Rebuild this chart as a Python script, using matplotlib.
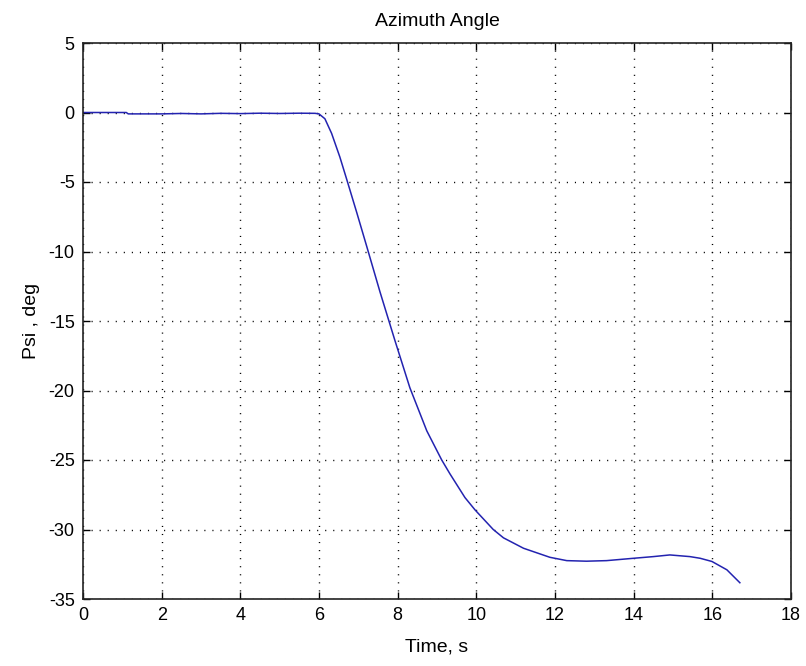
import matplotlib
matplotlib.use("Agg")
import matplotlib.pyplot as plt
from matplotlib.ticker import MultipleLocator

plt.rcParams['font.family'] = ['Liberation Sans', 'DejaVu Sans']
plt.rcParams['axes.unicode_minus'] = False

# Azimuth angle history
time_s = [0.0, 1.1, 1.15, 2.0, 2.5, 3.0, 3.5, 4.0, 4.5, 5.0, 5.5, 5.9, 6.0,
          6.15, 6.32, 6.53, 6.71, 6.96, 7.21, 7.55, 7.93, 8.31, 8.74, 9.12,
          9.33, 9.71, 9.97, 10.43, 10.69, 11.2, 11.87, 12.3, 12.8, 13.31,
          14.0, 14.5, 14.92, 15.43, 15.69, 15.99, 16.37, 16.7]
psi_deg = [0.0, 0.0, -0.1, -0.1, -0.07, -0.1, -0.06, -0.08, -0.05, -0.07,
           -0.05, -0.06, -0.1, -0.45, -1.5, -3.2, -4.86, -7.2, -9.6, -12.9,
           -16.4, -19.8, -22.9, -25.0, -26.0, -27.7, -28.6, -30.0, -30.6,
           -31.35, -32.0, -32.24, -32.28, -32.24, -32.07, -31.95, -31.83,
           -31.95, -32.07, -32.3, -32.9, -33.83]

fig = plt.figure(figsize=(8.06, 6.66), dpi=100)
ax = fig.add_axes([83 / 806, 67 / 666, 708 / 806, 556 / 666])

ax.plot(time_s, psi_deg, color='#2323b0', linewidth=1.1)

ax.set_xlim(0, 18)
ax.set_ylim(-35, 5)
ax.xaxis.set_major_locator(MultipleLocator(2))
ax.yaxis.set_major_locator(MultipleLocator(5))

ax.grid(True, color='black', linestyle=(0, (0.8, 5)), linewidth=1.0)
ax.tick_params(direction='in', length=5, width=1, top=True, right=True,
               labelsize=13, colors='black', pad=6)
for sp in ax.spines.values():
    sp.set_linewidth(1.2)
    sp.set_color('#222222')

ax.set_title('Azimuth Angle', fontsize=14, pad=12)
ax.set_xlabel('Time, s', fontsize=14, labelpad=10)
ax.set_ylabel('Psi , deg', fontsize=14, labelpad=6)

fig.savefig('out.png', dpi=100)
